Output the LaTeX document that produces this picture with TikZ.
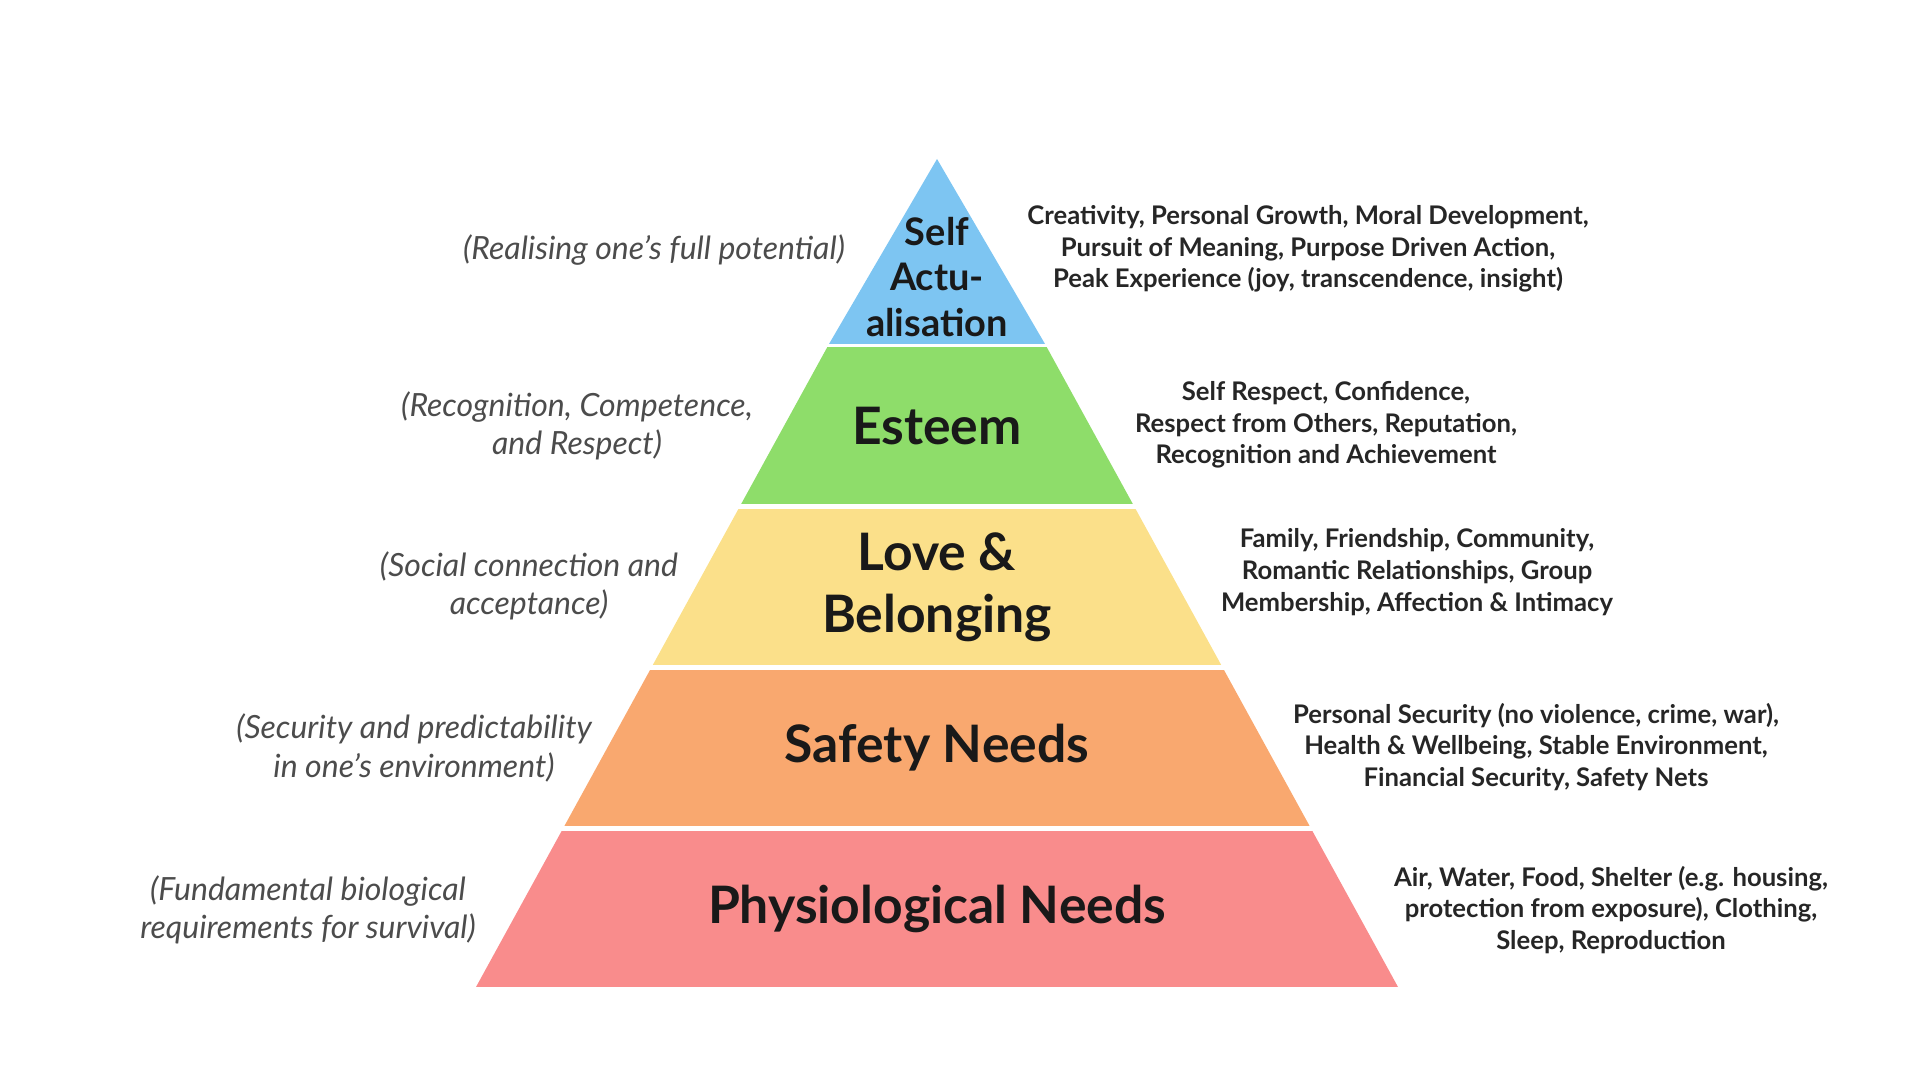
\documentclass[tikz,border=0pt]{standalone}
\usepackage{fontspec}
\setmainfont{Lato}
\usepackage{tikz}
\definecolor{selfblue}{HTML}{7DC5F2}
\definecolor{esteemgreen}{HTML}{8EDD6A}
\definecolor{loveyellow}{HTML}{FBE08A}
\definecolor{safeorange}{HTML}{F9A86F}
\definecolor{physred}{HTML}{F98C8C}
\tikzset{
  tiertext/.style={align=center, inner sep=0pt, text=black!90, font=\bfseries\fontsize{14.7}{17.6}\selectfont},
  desctext/.style={align=center, inner sep=0pt, text=black!85, font=\bfseries\fontsize{7.3}{9}\selectfont},
  notetext/.style={align=center, inner sep=0pt, text=black!70, font=\itshape\fontsize{9.1}{10.9}\selectfont}
}

\begin{document}
\begin{tikzpicture}
            \useasboundingbox (0,0) rectangle (19.2,10.8);
            \begin{scope}
            \clip (4.76,0.93) -- (8.29,7.36) -- (9.37,9.21) -- (10.45,7.36) -- (13.98,0.93) -- cycle;
            \fill[selfblue] (4,7.36) rectangle (15,9.5);
            \fill[esteemgreen] (4,5.76) rectangle (15,7.33);
            \fill[loveyellow] (4,4.15) rectangle (15,5.71);
            \fill[safeorange] (4,2.54) rectangle (15,4.10);
            \fill[physred] (4,0.93) rectangle (15,2.49);
            \end{scope}

            \node[tiertext, font=\bfseries\fontsize{10.8}{13}\selectfont] (self) at (9.37,8.03) {Self\\Actu-\\alisation};
            \node[tiertext] (esteem) at (9.37,6.54) {Esteem};
            \node[tiertext] (love) at (9.37,4.93) {Love \&\\Belonging};
            \node[tiertext] (safety) at (9.37,3.32) {Safety Needs};
            \node[tiertext] (physio) at (9.37,1.71) {Physiological Needs};

            \node[notetext] (selfnote) at (6.54,8.30) {(Realising one’s full potential)};
            \node[notetext] (esteemnote) at (5.77,6.54) {(Recognition, Competence,\\and Respect)};
            \node[notetext] (lovenote) at (5.29,4.94) {(Social connection and\\acceptance)};
            \node[notetext] (safetynote) at (4.14,3.32) {(Security and predictability\\in one’s environment)};
            \node[notetext] (physionote) at (3.08,1.70) {(Fundamental biological\\requirements for survival)};

            \node[desctext] (selfdesc) at (13.08,8.31) {Creativity, Personal Growth, Moral Development,\\Pursuit of Meaning, Purpose Driven Action,\\Peak Experience (joy, transcendence, insight)};
            \node[desctext] (esteemdesc) at (13.26,6.55) {Self Respect, Confidence,\\Respect from Others, Reputation,\\Recognition and Achievement};
            \node[desctext] (lovedesc) at (14.17,5.08) {Family, Friendship, Community,\\Romantic Relationships, Group\\Membership, Affection \& Intimacy};
            \node[desctext] (safetydesc) at (15.36,3.33) {Personal Security (no violence, crime, war),\\Health \& Wellbeing, Stable Environment,\\Financial Security, Safety Nets};
            \node[desctext] (physiodesc) at (16.11,1.70) {Air, Water, Food, Shelter (e.g. housing,\\protection from exposure), Clothing,\\Sleep, Reproduction};
\end{tikzpicture}
\end{document}
